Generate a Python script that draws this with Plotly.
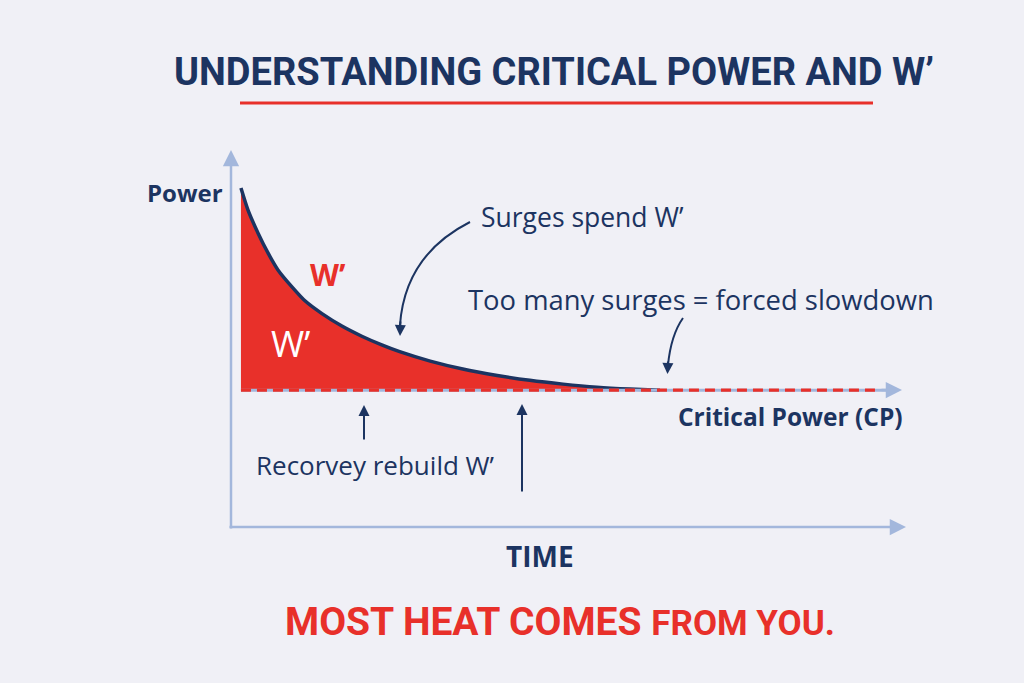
import plotly.graph_objects as go

# ---------------- data ----------------
time_pts = [0, 1.05, 2.56, 4.07, 5.57, 7.68, 9.64, 12.2, 15.2, 18.2, 21.2, 23.9, 28.5,
            33.4, 38.6, 43.5, 48.5, 53.6, 58.6, 63.1]
power_pts = [89.9, 84.1, 78.0, 72.7, 68.2, 63.7, 60.0, 56.6, 53.3, 50.6, 48.3, 46.5, 44.0,
             41.9, 40.2, 38.9, 37.9, 37.1, 36.6, 36.3]
critical_power = 36.3
cp_line_end = 97.5

title_text = "UNDERSTANDING CRITICAL POWER AND W’"
footer_text = "MOST HEAT COMES <span style='font-size:35px'>FROM YOU.</span>"

# ---------------- styling ----------------
W, H = 1024, 683
BG = "#f0f0f6"
NAVY = "#1c3461"
RED = "#e8302a"
LIGHT = "#a3b7dc"
HEAD = "Roboto, Liberation Sans, sans-serif"
SANS = "Open Sans, Noto Sans, sans-serif"

def px(x):
    return x / W

def py(y):
    return 1 - y / H

fig = go.Figure()

# CP baseline (fill reference)
fig.add_trace(go.Scatter(x=time_pts, y=[critical_power] * len(time_pts), mode="lines",
                         line=dict(width=0, color=RED), hoverinfo="skip", showlegend=False))
# power-duration curve with W' area
fig.add_trace(go.Scatter(x=time_pts, y=power_pts, mode="lines", fill="tonexty",
                         fillcolor=RED, line=dict(color=NAVY, width=3.5, shape="spline", smoothing=0.6),
                         showlegend=False))
# light CP line underneath the dashes
fig.add_trace(go.Scatter(x=[0, cp_line_end], y=[critical_power, critical_power], mode="lines",
                         line=dict(color=LIGHT, width=3), showlegend=False))
# dashed CP line
fig.add_trace(go.Scatter(x=[0, cp_line_end - 2], y=[critical_power, critical_power], mode="lines",
                         line=dict(color=RED, width=3.2, dash="10px,6px"), showlegend=False))

annotations = []
shapes = []

def arrow(x0, y0, x1, y1, color, width=2, head=2, size=1.2):
    annotations.append(dict(xref="paper", yref="paper", x=px(x1), y=py(y1),
                            ax=x0 - x1, ay=y0 - y1, axref="pixel", ayref="pixel",
                            showarrow=True, arrowhead=head, arrowsize=size,
                            arrowwidth=width, arrowcolor=color, text=""))

def text(x, y, s, size, color, family=SANS, xanchor="center"):
    annotations.append(dict(xref="paper", yref="paper", x=px(x), y=py(y), text=s,
                            showarrow=False, xanchor=xanchor, yanchor="middle",
                            font=dict(size=size, color=color, family=family)))

# axes
arrow(231, 530, 231, 150, LIGHT, width=2.5, head=2, size=1.3)
arrow(228, 527, 906, 527, LIGHT, width=2.5, head=2, size=1.3)
# CP arrow head
arrow(880, 390, 902, 390, LIGHT, width=2.5, head=2, size=1.3)

# curved arrow: surges spend W'
shapes.append(dict(type="path", xref="paper", yref="paper",
                   path=f"M {px(470)},{py(222)} Q {px(405)},{py(255)} {px(400)},{py(325)}",
                   line=dict(color=NAVY, width=2)))
arrow(400.5, 320, 400, 336, NAVY, width=2, size=1.1)
# arrow: too many surges
shapes.append(dict(type="path", xref="paper", yref="paper",
                   path=f"M {px(683)},{py(318)} Q {px(671)},{py(335)} {px(668)},{py(365)}",
                   line=dict(color=NAVY, width=2)))
arrow(668, 360, 667.5, 374, NAVY, width=2, size=1.1)
# up arrows
arrow(364, 441, 364, 405, NAVY, width=2, size=1.1)
arrow(522, 493, 522, 404, NAVY, width=2, size=1.1)

# title underline
shapes.append(dict(type="line", xref="paper", yref="paper", x0=px(240), x1=px(873),
                   y0=py(103), y1=py(103), line=dict(color=RED, width=3)))

# texts
text(554, 72, f"<b>{title_text}</b>", 38, NAVY, family=HEAD)
text(185, 193, "<b>Power</b>", 24, NAVY)
text(328, 274, "<b>W’</b>", 30, RED)
text(290, 343, "W’", 36, "white")
text(479, 217, "Surges spend W’", 26.5, NAVY, xanchor="left")
text(466, 299, "Too many surges = forced slowdown", 27.4, NAVY, xanchor="left")
text(905, 416, "<b>Critical Power (CP)</b>", 24.5, NAVY, xanchor="right")
text(254, 465, "Recorvey rebuild W’", 26, NAVY, xanchor="left")
text(540, 556, "<b>TIME</b>", 28, NAVY)
text(560, 622, f"<b>{footer_text}</b>", 39, RED, family=HEAD)

# axis scales chosen so the plot area spans the whole canvas
sx = (905 - 231) / 101.5
t0 = -1.5 - 231 / sx
sy = (527 - 150) / 100.0
fig.update_layout(
    width=W, height=H, margin=dict(l=0, r=0, t=0, b=0),
    paper_bgcolor=BG, plot_bgcolor=BG,
    xaxis=dict(range=[t0, t0 + W / sx], visible=False, fixedrange=True),
    yaxis=dict(range=[-(H - 527) / sy, 527 / sy], visible=False, fixedrange=True),
    annotations=annotations, shapes=shapes, showlegend=False,
)

fig.write_html("out.html", config={"displayModeBar": False},
               post_script="document.body.style.margin='0';document.body.style.overflow='hidden';")
